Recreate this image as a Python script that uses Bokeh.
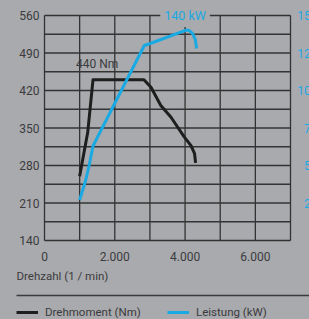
from bokeh.plotting import figure
from bokeh.models import Range1d, Label, Legend, LegendItem, Arrow
from bokeh.core.properties import value
from bokeh.embed import file_html
from bokeh.resources import INLINE

# ---- data ----
rpm_torque = [1000, 1230, 1380, 2830, 3030, 3310, 3600, 3980, 4170, 4270, 4300]
torque_nm = [260, 342, 440, 440, 426, 392, 370, 333, 317, 302, 285]

rpm_power = [1000, 1170, 1270, 1380, 2840, 3030, 4030, 4120, 4220, 4290, 4330]
power_kw = [27, 40, 50, 63, 130, 131.5, 140.3, 140, 137.8, 134, 128]

x_grid_ticks = [0, 1000, 2000, 3000, 4000, 5000, 6000, 7000]
x_label_ticks = [0, 2000, 4000, 6000]
x_tick_labels = ["0", "2.000", "4.000", "6.000"]
y_grid_ticks = list(range(140, 561, 35))
y_label_ticks = [140, 210, 280, 350, 420, 490, 560]
kw_label_ticks = [25, 50, 75, 100, 125, 150]
kw_max = 150

torque_note = "440 Nm"
power_note = "140 kW"
x_title = "Drehzahl (1 / min)"
legend_labels = ["Drehmoment (Nm)", "Leistung (kW)"]

# ---- layout (pixels) ----
W, H = 309, 319
BOX_L, BOX_R, BOX_T, BOX_B = 44, 290, 15, 240
XMIN, XMAX = x_grid_ticks[0], x_grid_ticks[-1]
YMIN, YMAX = y_grid_ticks[0], y_grid_ticks[-1]
sx = (BOX_R - BOX_L) / (XMAX - XMIN)
sy = (BOX_B - BOX_T) / (YMAX - YMIN)
x_start, x_end = XMIN - BOX_L / sx, XMAX + (W - BOX_R) / sx
y_start, y_end = YMIN - (H - BOX_B) / sy, YMAX + BOX_T / sy
k = kw_max / (YMAX - YMIN)


def y_px(py):
    return YMAX - (py - BOX_T) / sy


# ---- styling ----
BG = "#a9aaad"
INK = "#3b3b3d"
GRID = "#333333"
BLUE = "#19a9e3"
BLACK = "#1e1e1e"
FONT = "Roboto"

p = figure(width=W, height=H, x_range=Range1d(x_start, x_end), y_range=Range1d(y_start, y_end),
           output_backend="svg", toolbar_location=None, min_border=0,
           x_axis_location=None, y_axis_location=None)
p.extra_y_ranges = {"kw": Range1d((y_start - YMIN) * k, (y_end - YMIN) * k)}
p.background_fill_color = BG
p.border_fill_color = BG
p.outline_line_color = None
p.grid.visible = False

# grid + frame box from the tick arrays
p.segment(x0=x_grid_ticks, x1=x_grid_ticks, y0=[YMIN] * len(x_grid_ticks), y1=[YMAX] * len(x_grid_ticks),
          line_color=GRID, line_width=1.3)
p.segment(x0=[XMIN] * len(y_grid_ticks), x1=[XMAX] * len(y_grid_ticks), y0=y_grid_ticks, y1=y_grid_ticks,
          line_color=GRID, line_width=1.3)

# tick labels
p.text(x=[XMIN] * len(y_label_ticks), y=y_label_ticks, text=[str(v) for v in y_label_ticks],
       text_align="right", text_baseline="middle", x_offset=-5,
       text_font=value(FONT), text_font_size="12px", text_color=INK)
p.text(x=x_label_ticks, y=[y_px(255.5)] * len(x_label_ticks), text=x_tick_labels,
       text_align="center", text_baseline="middle",
       text_font=value(FONT), text_font_size="12px", text_color=INK)
p.text(x=[XMAX] * len(kw_label_ticks), y=kw_label_ticks, y_range_name="kw",
       text=[str(v) for v in kw_label_ticks], text_align="right", text_baseline="middle", x_offset=27,
       text_font=value(FONT), text_font_size="12px", text_color=BLUE)

# curves
r_t = p.line(rpm_torque, torque_nm, line_color=BLACK, line_width=3, line_join="round")
r_p = p.line(rpm_power, power_kw, y_range_name="kw", line_color=BLUE, line_width=3, line_join="round")

p.add_layout(Label(x=1500, y=470, text=torque_note, text_align="center", text_baseline="middle",
                   text_font=FONT, text_font_size="12px", text_color=INK))
p.add_layout(Label(x=4000, y=YMAX, text=power_note, text_align="center", text_baseline="middle",
                   text_font=FONT, text_font_size="12.5px", text_color=BLUE,
                   background_fill_color=BG, background_fill_alpha=1, padding=4, level="overlay"))

p.add_layout(Label(x=16, y=275, x_units="canvas", y_units="canvas", text=x_title,
                   text_align="left", text_baseline="middle", text_font=FONT,
                   text_font_size="11.5px", text_color=INK))

p.add_layout(Arrow(x_start=16, y_start=295, x_end=W, y_end=295, start_units="canvas",
                   end_units="canvas", end=None, line_color=INK, line_width=1.5))

legend = Legend(items=[LegendItem(label=legend_labels[0], renderers=[r_t]),
                       LegendItem(label=legend_labels[1], renderers=[r_p])],
                orientation="horizontal", location=(16, 0), glyph_width=22, glyph_height=12,
                label_height=12, label_standoff=7, label_width=110, spacing=12, padding=0, margin=0,
                border_line_alpha=0, background_fill_alpha=0, label_text_font=FONT,
                label_text_font_size="11.5px", label_text_color=INK, label_text_baseline="middle")
p.add_layout(legend)

html = file_html(p, INLINE)
html = html.replace("</head>", "<style>body{background:%s}</style></head>" % BG, 1)
open("out.html", "w").write(html)
